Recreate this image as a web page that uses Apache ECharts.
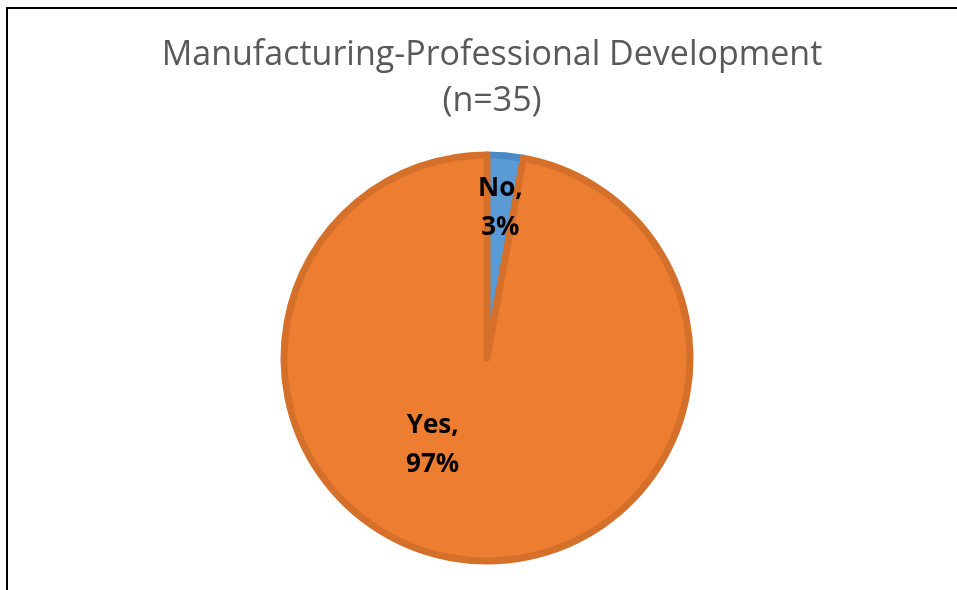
<!DOCTYPE html>
<html>
<head>
<meta charset="utf-8">
<script src="https://cdn.jsdelivr.net/npm/echarts@6/dist/echarts.min.js"></script>
<style>html,body{margin:0;padding:0;background:#fff;}#c{width:957px;height:590px;}</style>
</head>
<body>
<div id="c"></div>
<script>
var titleLines = ['Manufacturing-Professional Development', '(n=35)'];
var categories = ['No', 'Yes'];
var counts = [1, 34];
var percents = ['3%', '97%'];

var fills = ['#5B9BD5', '#ED7D31'];
var borders = ['#4A89C6', '#D5702B'];
var offsets = [[4, -46], [-45, -17]];

var chart = echarts.init(document.getElementById('c'));
var data = categories.map(function (c, i) {
  return {
    name: c,
    value: counts[i],
    pct: percents[i],
    itemStyle: { color: fills[i], borderColor: borders[i] },
    label: { offset: offsets[i] }
  };
});
chart.setOption({
  animation: false,
  backgroundColor: '#ffffff',
  title: {
    text: titleLines.join('\n'),
    left: 487,
    textAlign: 'center',
    top: 27,
    textStyle: {
      fontFamily: 'Open Sans',
      fontWeight: 'normal',
      fontSize: 34,
      lineHeight: 46,
      color: '#595959'
    }
  },
  graphic: [{
    type: 'rect',
    shape: { x: 7, y: 8, width: 1000, height: 1000 },
    style: { fill: 'none', stroke: '#000', lineWidth: 2 },
    silent: true
  }],
  series: [{
    type: 'pie',
    center: [487, 358],
    radius: [0, 203],
    startAngle: 90,
    clockwise: true,
    itemStyle: { borderWidth: 7 },
    label: {
      show: true,
      position: 'inside',
      formatter: function (p) { return p.name + ',\n' + p.data.pct; },
      fontFamily: 'Open Sans',
      fontWeight: 'bold',
      fontSize: 26,
      lineHeight: 39,
      color: '#000',
      align: 'center'
    },
    labelLine: { show: false },
    emphasis: { disabled: true },
    data: data
  }]
});
</script>
</body>
</html>
